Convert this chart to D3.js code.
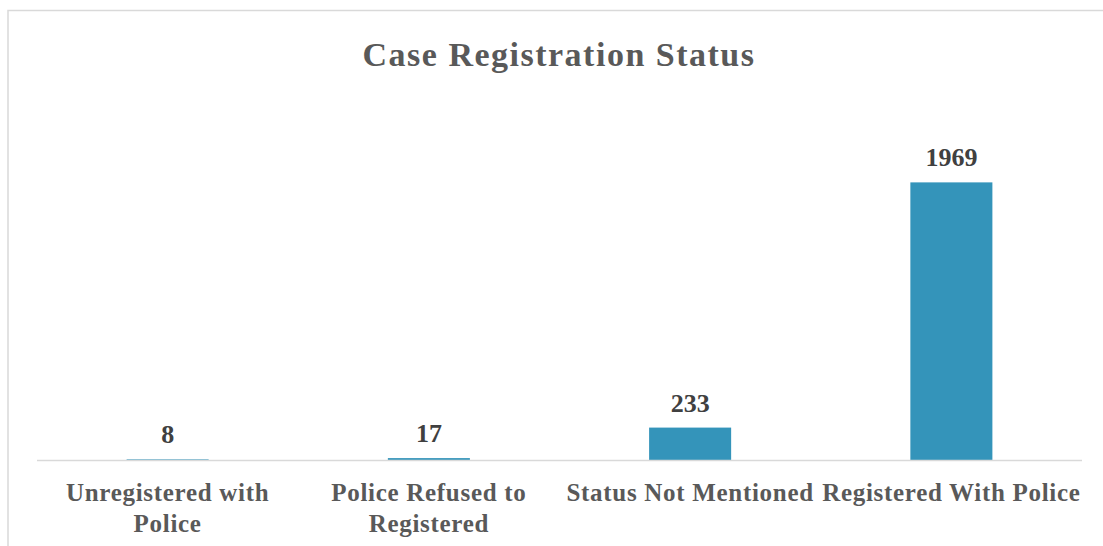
<!DOCTYPE html>
<html>
<head>
<meta charset="utf-8">
<script src="https://cdn.jsdelivr.net/npm/d3@7"></script>
<style>
  body { margin: 0; background: #fff; }
  svg text { font-family: "Times New Roman", "Liberation Serif", serif; font-weight: bold; }
</style>
</head>
<body>
<svg id="chart" width="1103" height="546"></svg>
<script>
// data
const categories = [
  ["Unregistered with", "Police"],
  ["Police Refused to", "Registered"],
  ["Status Not Mentioned"],
  ["Registered With Police"]
];
const values = [8, 17, 233, 1969];
const title = "Case Registration Status";

const svg = d3.select("#chart");

// chart border (right and bottom run off the picture)
svg.append("rect")
  .attr("x", 8).attr("y", 10.5)
  .attr("width", 1120).attr("height", 560)
  .attr("fill", "white")
  .attr("stroke", "#d9d9d9")
  .attr("stroke-width", 1.5);

const left = 37, right = 1082, baseY = 460.5;

const x = d3.scaleBand()
  .domain(d3.range(values.length))
  .range([left, right])
  .padding(0);

const y = d3.scaleLinear()
  .domain([0, 2000])
  .range([baseY, 178]);

const barW = x.bandwidth() * 0.314;

// bars
svg.selectAll("rect.bar")
  .data(values)
  .enter()
  .append("rect")
  .attr("class", "bar")
  .attr("x", (d, i) => x(i) + x.bandwidth() / 2 - barW / 2)
  .attr("y", d => y(d))
  .attr("width", barW)
  .attr("height", d => Math.max(baseY - y(d), 1))
  .attr("fill", "#3494ba");

// baseline
svg.append("line")
  .attr("x1", left).attr("x2", right)
  .attr("y1", baseY).attr("y2", baseY)
  .attr("stroke", "#d9d9d9")
  .attr("stroke-width", 1.5);

// value labels
svg.selectAll("text.val")
  .data(values)
  .enter()
  .append("text")
  .attr("class", "val")
  .attr("x", (d, i) => x(i) + x.bandwidth() / 2)
  .attr("y", d => y(d) - 16)
  .attr("text-anchor", "middle")
  .style("font-size", "26px")
  .style("fill", "#404040")
  .text(d => d);

// category labels
const cat = svg.selectAll("text.cat")
  .data(categories)
  .enter()
  .append("text")
  .attr("class", "cat")
  .attr("x", (d, i) => x(i) + x.bandwidth() / 2)
  .attr("y", 501)
  .attr("text-anchor", "middle")
  .style("font-size", "25px")
  .style("letter-spacing", "0.7px")
  .style("fill", "#595959");

cat.selectAll("tspan")
  .data(d => d)
  .enter()
  .append("tspan")
  .attr("x", function () { return d3.select(this.parentNode).attr("x"); })
  .attr("dy", (d, i) => i === 0 ? 0 : 31)
  .text(d => d);

// title
svg.append("text")
  .attr("x", 559)
  .attr("y", 66)
  .attr("text-anchor", "middle")
  .style("font-size", "34px")
  .style("letter-spacing", "1.5px")
  .style("fill", "#595959")
  .text(title);
</script>
</body>
</html>
